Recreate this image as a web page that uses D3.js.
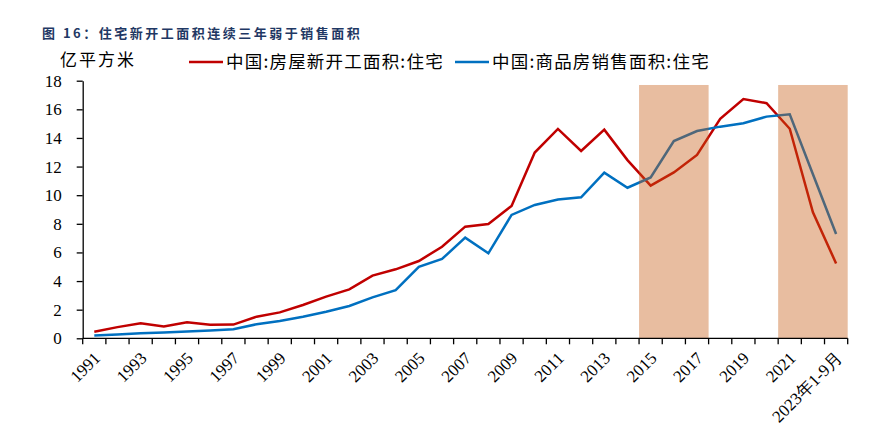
<!DOCTYPE html>
<html lang="zh">
<head>
<meta charset="utf-8">
<script src="https://cdn.jsdelivr.net/npm/d3@7"></script>
<style>
    body { margin: 0; background: #fff; }
    .axis path, .axis line { stroke: #000; stroke-width: 1.3px; }
    .axis text { font-family: "Liberation Serif", serif; font-size: 17px; fill: #000; }
</style>
</head>
<body>
<script>
const categories = ["1991","1992","1993","1994","1995","1996","1997","1998","1999","2000",
    "2001","2002","2003","2004","2005","2006","2007","2008","2009","2010",
    "2011","2012","2013","2014","2015","2016","2017","2018","2019","2020",
    "2021","2022","2023年1-9月"];
const newStarts = [0.46, 0.78, 1.05, 0.83, 1.12, 0.95, 0.96, 1.51, 1.81, 2.33,
    2.91, 3.42, 4.38, 4.82, 5.40, 6.40, 7.80, 7.99, 9.25, 12.98,
    14.63, 13.09, 14.58, 12.45, 10.67, 11.59, 12.81, 15.33, 16.72, 16.43,
    14.64, 8.81, 5.23];
const salesArea = [0.20, 0.27, 0.35, 0.40, 0.47, 0.55, 0.63, 0.98, 1.21, 1.51,
    1.86, 2.26, 2.86, 3.37, 4.99, 5.54, 7.03, 5.94, 8.62, 9.32,
    9.70, 9.85, 11.57, 10.52, 11.24, 13.78, 14.48, 14.79, 15.03, 15.49,
    15.65, 11.46, 7.29];
const tickLabels = categories.filter((d, i) => i % 2 === 0);
const yTicks = [0, 2, 4, 6, 8, 10, 12, 14, 16, 18];
const shadeRanges = [["2015", "2017"], ["2021", "2023年1-9月"]];
const shadeTop = 17.7;
const seriesNames = ["中国:房屋新开工面积:住宅", "中国:商品房销售面积:住宅"];
const seriesColors = ["#c00000", "#0070c0"];

const w = 880, h = 430;
const padLeft = 82.7, padRight = 847.7, padTop = 80.7, padBottom = 338.3;

const svg = d3.select("body").append("svg")
    .attr("width", w).attr("height", h);

const xScale = d3.scaleBand().domain(categories).range([padLeft, padRight]).padding(0);
const yScale = d3.scaleLinear().domain([0, 18]).range([padBottom, padTop]);
const bw = xScale.bandwidth();

// title
svg.append("text")
    .attr("x", 42).attr("y", 38)
    .attr("font-family", "Noto Sans CJK SC")
    .attr("font-weight", "bold")
    .attr("font-size", "13px")
    .attr("letter-spacing", "2.5px")
    .attr("fill", "#1f3864")
    .text("图 16：住宅新开工面积连续三年弱于销售面积");

// unit
svg.append("text")
    .attr("x", 60).attr("y", 66)
    .attr("font-family", "Noto Sans CJK SC")
    .attr("font-size", "17px")
    .attr("letter-spacing", "2px")
    .attr("fill", "#000")
    .text("亿平方米");

// legend
const legendX = [189, 455];
seriesNames.forEach((name, i) => {
    svg.append("line")
        .attr("x1", legendX[i]).attr("x2", legendX[i] + 34)
        .attr("y1", 62).attr("y2", 62)
        .attr("stroke", seriesColors[i]).attr("stroke-width", 2.5);
    svg.append("text")
        .attr("x", legendX[i] + 37).attr("y", 68)
        .attr("font-family", "Noto Sans CJK SC")
        .attr("font-size", "17.5px")
        .attr("letter-spacing", "1.2px")
        .attr("fill", "#000")
        .text(name);
});

// lines
const series = [newStarts, salesArea];
series.forEach((vals, i) => {
    const line = d3.line()
        .x((d, j) => xScale(categories[j]) + bw / 2)
        .y(d => yScale(d));
    svg.append("path")
        .datum(vals)
        .attr("d", line)
        .attr("fill", "none")
        .attr("stroke", seriesColors[i])
        .attr("stroke-width", 2.5);
});

// shaded periods on top of the lines
svg.selectAll("rect.shade")
    .data(shadeRanges)
    .enter()
    .append("rect")
    .attr("class", "shade")
    .attr("x", d => xScale(d[0]))
    .attr("y", yScale(shadeTop))
    .attr("width", d => xScale(d[1]) + bw - xScale(d[0]))
    .attr("height", yScale(0) - yScale(shadeTop))
    .attr("fill", "#c55a11")
    .attr("opacity", 0.4);

// y axis
const yAxis = d3.axisLeft(yScale).tickValues(yTicks).tickSize(6).tickPadding(15).tickSizeOuter(0);
svg.append("g")
    .attr("class", "axis")
    .attr("transform", "translate(" + padLeft + ",0)")
    .call(yAxis);

// x axis: ticks at band edges
const xg = svg.append("g").attr("class", "axis");
xg.append("line")
    .attr("x1", padLeft).attr("x2", padRight)
    .attr("y1", padBottom).attr("y2", padBottom);
xg.selectAll("line.tick")
    .data(categories.concat(["end"]))
    .enter()
    .append("line")
    .attr("class", "tick")
    .attr("x1", (d, i) => i < categories.length ? xScale(d) : padRight)
    .attr("x2", (d, i) => i < categories.length ? xScale(d) : padRight)
    .attr("y1", padBottom).attr("y2", padBottom + 6);
xg.selectAll("text")
    .data(tickLabels)
    .enter()
    .append("text")
    .attr("text-anchor", "end")
    .attr("transform", d => "translate(" + (xScale(d) + bw / 2 + 7) + "," + (padBottom + 21) + ") rotate(-45)")
    .text(d => d);
</script>
</body>
</html>
